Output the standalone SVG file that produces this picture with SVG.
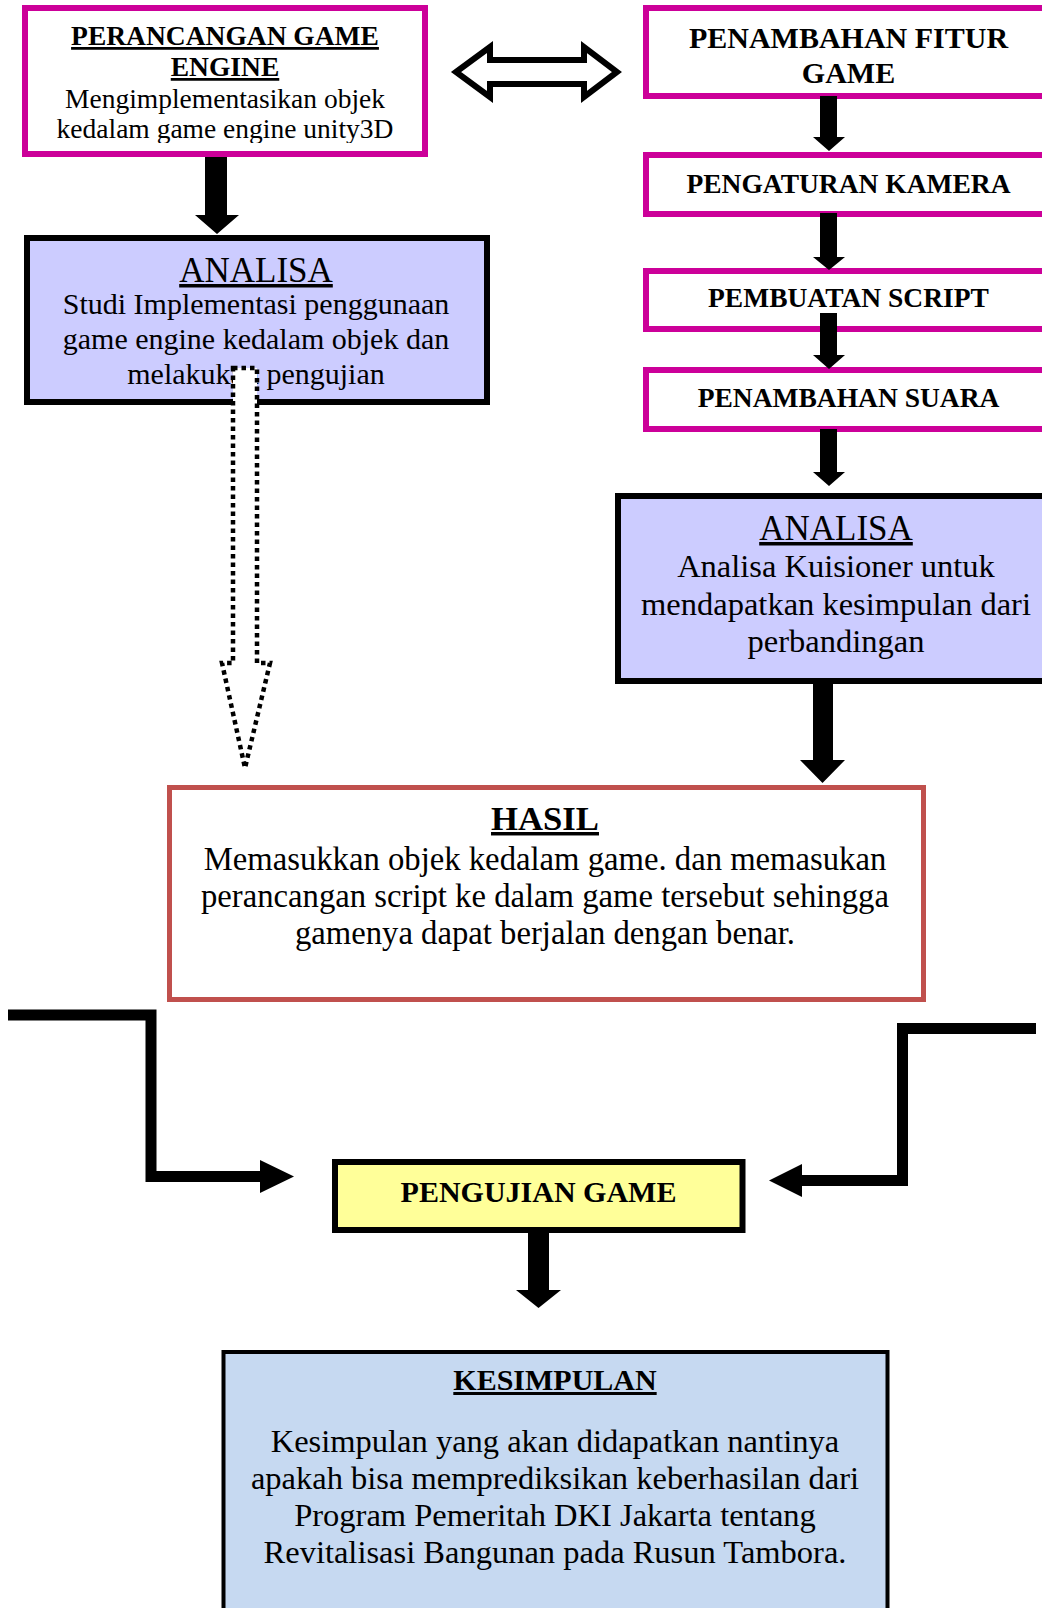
<svg xmlns="http://www.w3.org/2000/svg" width="1042" height="1608" viewBox="0 0 1042 1608">
<defs>
<style>
.t{font-family:"Liberation Serif","Times New Roman",serif;fill:#000;text-anchor:middle}
.b{font-weight:bold}
.u{text-decoration:underline}
.mag{fill:#fff;stroke:#CC0099;stroke-width:6}
.lav{fill:#CCCCFF;stroke:#000;stroke-width:6}
.blk{fill:#000;stroke:none}
.bent{fill:none;stroke:#000;stroke-width:11;stroke-linejoin:miter}
</style>
<clipPath id="clip1"><rect x="25" y="8" width="400" height="135"/></clipPath>
</defs>

<g id="node-perancangan">
<rect class="mag" x="25" y="8" width="400" height="146"/>
<text class="t b u" x="225" y="45" font-size="27.5">PERANCANGAN GAME</text>
<text class="t b u" x="225" y="76" font-size="27.5">ENGINE</text>
<text class="t" x="225" y="108" font-size="27.5">Mengimplementasikan objek</text>
<text class="t" x="225" y="138" font-size="27.5" clip-path="url(#clip1)">kedalam game engine unity3D</text>
</g>

<g id="node-fitur">
<rect class="mag" x="646" y="8" width="420" height="88"/>
<text class="t b" x="848.5" y="48" font-size="30">PENAMBAHAN FITUR</text>
<text class="t b" x="848.5" y="83" font-size="30">GAME</text>
</g>

<g id="node-kamera">
<rect class="mag" x="646" y="155" width="420" height="59"/>
<text class="t b" x="848.5" y="193" font-size="27.5">PENGATURAN KAMERA</text>
</g>

<g id="node-script">
<rect class="mag" x="646" y="271" width="420" height="58"/>
<text class="t b" x="848.5" y="307" font-size="27.5">PEMBUATAN SCRIPT</text>
</g>

<g id="node-suara">
<rect class="mag" x="646" y="370" width="420" height="59"/>
<text class="t b" x="848.5" y="407" font-size="27.5">PENAMBAHAN SUARA</text>
</g>

<g id="node-analisa1">
<rect class="lav" x="27" y="238" width="460" height="164"/>
<text class="t u" x="256" y="282" font-size="35">ANALISA</text>
<text class="t" x="256" y="314" font-size="30">Studi Implementasi penggunaan</text>
<text class="t" x="256" y="349" font-size="30">game engine kedalam objek dan</text>
<text class="t" x="256" y="384" font-size="30">melakukan pengujian</text>
</g>

<g id="node-analisa2">
<rect class="lav" x="618" y="496" width="450" height="185"/>
<text class="t u" x="836" y="540" font-size="35">ANALISA</text>
<text class="t" x="836" y="577" font-size="32.5">Analisa Kuisioner untuk</text>
<text class="t" x="836" y="615" font-size="32.5">mendapatkan kesimpulan dari</text>
<text class="t" x="836" y="652" font-size="32.5">perbandingan</text>
</g>

<g id="node-hasil">
<rect x="169.5" y="787.5" width="754" height="212" fill="#fff" stroke="#C0504D" stroke-width="5"/>
<text class="t b u" x="545" y="830" font-size="34.7">HASIL</text>
<text class="t" x="545" y="870" font-size="32.7">Memasukkan objek kedalam game. dan memasukan</text>
<text class="t" x="545" y="907" font-size="32.7">perancangan script ke dalam game tersebut sehingga</text>
<text class="t" x="545" y="944" font-size="32.7">gamenya dapat berjalan dengan benar.</text>
</g>

<g id="node-pengujian">
<rect x="335" y="1162" width="407.5" height="68" fill="#FFFF99" stroke="#000" stroke-width="6"/>
<text class="t b" x="538.5" y="1202" font-size="30">PENGUJIAN GAME</text>
</g>

<g id="node-kesimpulan">
<rect x="223.5" y="1352" width="664" height="290" fill="#C6D9F1" stroke="#000" stroke-width="4"/>
<text class="t b u" x="555" y="1390" font-size="30">KESIMPULAN</text>
<text class="t" x="555" y="1452" font-size="32.5">Kesimpulan yang akan didapatkan nantinya</text>
<text class="t" x="555" y="1489" font-size="32.5">apakah bisa memprediksikan keberhasilan dari</text>
<text class="t" x="555" y="1526" font-size="32.5">Program Pemeritah DKI Jakarta tentang</text>
<text class="t" x="555" y="1563" font-size="32.5">Revitalisasi Bangunan pada Rusun Tambora.</text>
</g>

<g id="connectors">
<path d="M456,72 L490,47 L490,60 L584,60 L584,47 L617,72 L584,97 L584,84 L490,84 L490,97 Z" fill="#fff" stroke="#000" stroke-width="6"/>
<polygon class="blk" points="205,157 227,157 227,215 239,215 217,234 195,215 205,215"/>
<polygon class="blk" points="820,96 837,96 837,137 845,137 829,151 813,137 820,137"/>
<polygon class="blk" points="820,213 837,213 837,257 845,257 829,270 813,257 820,257"/>
<polygon class="blk" points="820,313 837,313 837,355 845,355 829,369 813,355 820,355"/>
<polygon class="blk" points="820,429 837,429 837,472 845,472 829,486 813,472 820,472"/>
<polygon class="blk" points="813,684 833,684 833,760 845,760 822.5,783 800,760 813,760"/>
<path d="M233,368 L257,368 L257,663 L270,663 L245,768 L222,663 L233,663 Z" fill="#fff" stroke="#000" stroke-width="4.5" stroke-dasharray="4.5 4"/>
<polyline class="bent" points="8,1015 151,1015 151,1176.5 262,1176.5"/>
<polygon class="blk" points="260,1160 294,1176.5 260,1193"/>
<polyline class="bent" points="1036,1028.5 902.5,1028.5 902.5,1180.5 800,1180.5"/>
<polygon class="blk" points="802,1164 769,1180.5 802,1197"/>
<polygon class="blk" points="528,1233 549,1233 549,1290 561,1290 538.5,1308 516,1290 528,1290"/>
</g>
</svg>
